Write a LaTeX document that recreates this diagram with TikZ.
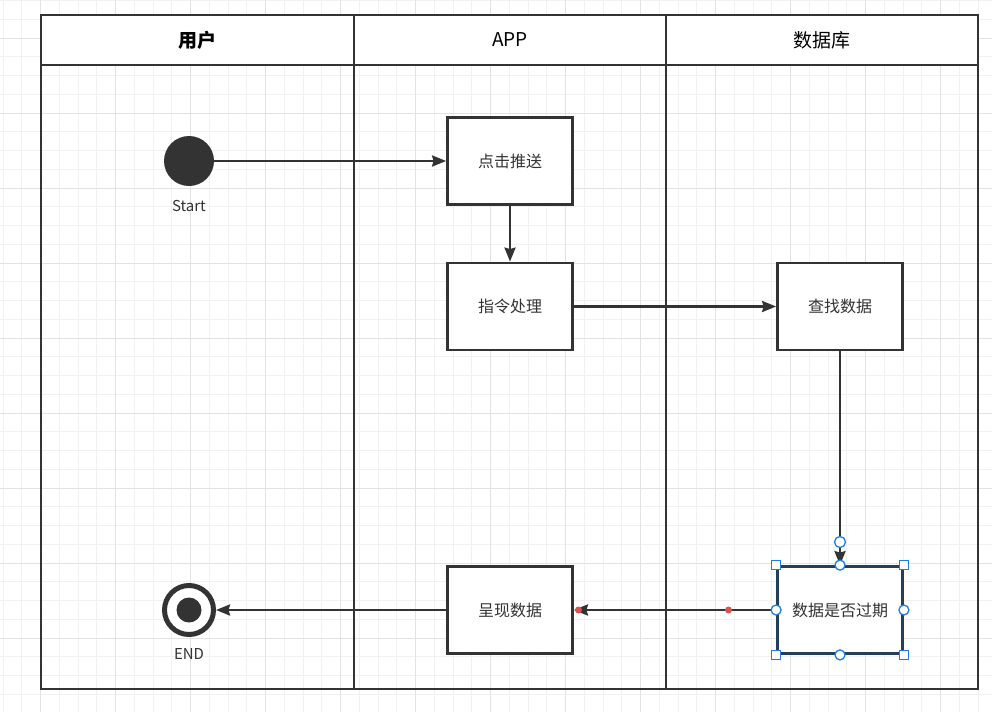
\documentclass[tikz,border=0pt]{standalone}
\usepackage{fontspec}
\setmainfont{Noto Sans CJK SC}
\usetikzlibrary{arrows.meta}
\definecolor{ink}{HTML}{333333}
\definecolor{gridminor}{HTML}{F1F1F1}
\definecolor{gridmajor}{HTML}{E2E2E2}
\definecolor{selblue}{HTML}{1E7FE0}
\definecolor{navy}{HTML}{23405A}
\definecolor{reddot}{HTML}{D9534F}
\tikzset{
  minorline/.style={gridminor, line width=1pt},
  majorline/.style={gridmajor, line width=1pt},
  lane/.style={draw=ink, line width=2.8pt},
  headtext/.style={text=black, font=\fontsize{19}{22}\selectfont},
  act/.style={draw=ink, line width=2.8pt, fill=white, minimum width=125pt, minimum height=87pt, inner sep=0pt, text=ink, font=\fontsize{16}{19}\selectfont},
  flow/.style={draw=ink, line width=2.6pt, -{Stealth[length=14pt, width=11pt, inset=1.5pt]}},
  caption/.style={text=ink, font=\fontsize{15}{18}\selectfont},
  handlesq/.style={draw=selblue, fill=white, line width=1.3pt, minimum size=9pt, inner sep=0pt},
  handlecirc/.style={circle, draw=selblue, fill=white, line width=1.3pt, minimum size=10pt, inner sep=0pt},
}
\begin{document}
\begin{tikzpicture}[x=1pt, y=-1pt]
\useasboundingbox (0,0) rectangle (992,712);
\fill[white] (0,0) rectangle (992,712);
% grid
\foreach \i in {0,...,53} {
  \draw[minorline] ({3+18.75*\i},0) -- ({3+18.75*\i},712);
}
\foreach \i in {0,...,38} {
  \draw[minorline] (0,{0.5+18.75*\i}) -- (992,{0.5+18.75*\i});
}
\foreach \i in {-1,...,12} {
  \draw[majorline] ({40.5+75*\i},0) -- ({40.5+75*\i},712);
}
\foreach \i in {0,...,9} {
  \draw[majorline] (0,{38+75*\i}) -- (992,{38+75*\i});
}
% lanes
\fill[white] (41,15) rectangle (978,65);
\draw[lane] (41,15) rectangle (978,689);
\draw[lane] (41,65) -- (978,65);
\draw[lane] (354,15) -- (354,689);
\draw[lane] (666,15) -- (666,689);
\node[headtext, font=\fontsize{19}{22}\selectfont\bfseries] (hUser) at (197.5,40) {用户};
\node[headtext] (hApp) at (510,40) {APP};
\node[headtext] (hDb) at (822,40) {数据库};
% start / end
\node[circle, fill=ink, minimum size=50pt, inner sep=0pt] (start) at (189,161) {};
\node[caption] (startlbl) at (189,206) {Start};
\node[circle, draw=ink, line width=5pt, fill=white, minimum size=49pt, inner sep=0pt] (end) at (189,610) {};
\node[circle, fill=ink, minimum size=25pt, inner sep=0pt] (endin) at (189,610) {};
\node[caption] (endlbl) at (189,654) {END};
% activities
\node[act] (push) at (510,161) {点击推送};
\node[act] (cmd) at (510,306.5) {指令处理};
\node[act] (find) at (840,306.5) {查找数据};
\node[act] (show) at (510,610) {呈现数据};
\node[act, draw=navy] (exp) at (840,610) {数据是否过期};
% connectors
\draw[flow] (start.east) -- (push.west);
\draw[flow] (push.south) -- (cmd.north);
\draw[flow] (cmd.east) -- (find.west);
\draw[flow] (find.south) -- (exp.north);
\draw[flow] (exp.west) -- (show.east);
\draw[flow] (show.west) -- (end.east);
% selection marks
\fill[reddot] (728.5,610) circle (3.5pt);
\fill[reddot] (578.5,610) circle (3.5pt);
\node[handlecirc, minimum size=11pt] (edgeh) at (840,542) {};
\node[handlesq] (c1) at (exp.north west) {};
\node[handlesq] (c2) at (exp.north east) {};
\node[handlesq] (c3) at (exp.south west) {};
\node[handlesq] (c4) at (exp.south east) {};
\node[handlecirc] (m1) at (exp.north) {};
\node[handlecirc] (m2) at (exp.south) {};
\node[handlecirc] (m3) at (exp.west) {};
\node[handlecirc] (m4) at (exp.east) {};
\end{tikzpicture}
\end{document}
